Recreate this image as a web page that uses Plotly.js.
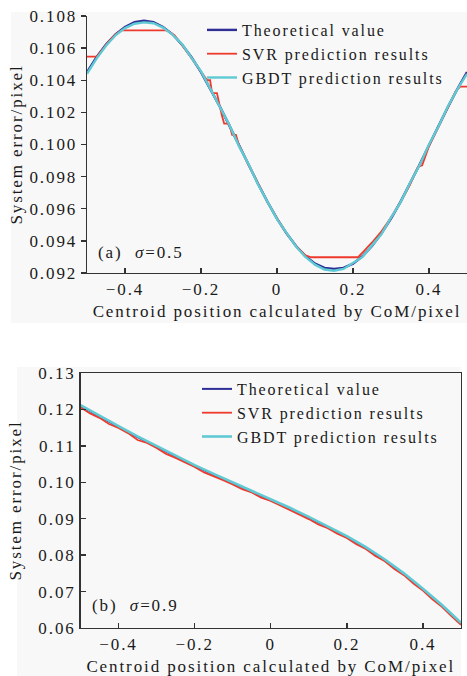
<!DOCTYPE html>
<html><head><meta charset="utf-8">
<script src="https://cdn.plot.ly/plotly-3.0.1.min.js"></script>
<style>
html,body{margin:0;padding:0;background:#fff;}
svg text{letter-spacing:1.9px;}
</style></head>
<body><div id="chart" style="width:467px;height:676px;"></div>
<script>
// ---- panel (a) sigma = 0.5 ----
const xA = [-0.5,-0.475,-0.45,-0.425,-0.4,-0.375,-0.35,-0.325,-0.3,-0.275,-0.25,-0.225,-0.2,-0.175,-0.15,-0.125,-0.1,-0.075,-0.05,-0.025,0,0.025,0.05,0.075,0.1,0.125,0.15,0.175,0.2,0.225,0.25,0.275,0.3,0.325,0.35,0.375,0.4,0.425,0.45,0.475,0.5];
const theoA = [0.10450,0.10543,0.10622,0.10686,0.10732,0.10761,0.10770,0.10761,0.10732,0.10686,0.10622,0.10543,0.10451,0.10347,0.10234,0.10116,0.09995,0.09874,0.09756,0.09643,0.09539,0.09447,0.09368,0.09304,0.09258,0.09232,0.09225,0.09232,0.09258,0.09304,0.09368,0.09447,0.09539,0.09643,0.09756,0.09874,0.09995,0.10116,0.10234,0.10347,0.10451];
const gbdtA = [0.10440,0.10535,0.10615,0.10680,0.10725,0.10752,0.10760,0.10755,0.10728,0.10684,0.10625,0.10540,0.10455,0.10345,0.10230,0.10120,0.09990,0.09878,0.09752,0.09646,0.09535,0.09450,0.09365,0.09300,0.09252,0.09222,0.09214,0.09225,0.09262,0.09300,0.09372,0.09442,0.09545,0.09640,0.09760,0.09870,0.10000,0.10112,0.10238,0.10345,0.10440];
const svrXA = [-0.5,-0.474,-0.46,-0.44,-0.425,-0.41,-0.29,-0.27,-0.25,-0.225,-0.2,-0.184,-0.176,-0.171,-0.158,-0.145,-0.139,-0.126,-0.118,-0.108,-0.1,-0.075,-0.05,-0.025,0,0.025,0.05,0.075,0.09,0.213,0.23,0.25,0.275,0.3,0.325,0.35,0.365,0.371,0.382,0.4,0.425,0.45,0.47,0.482,0.5];
const svrYA = [0.10547,0.10547,0.10590,0.10650,0.10685,0.10710,0.10710,0.10680,0.10620,0.10540,0.10455,0.10400,0.10400,0.10320,0.10320,0.10180,0.10130,0.10130,0.10060,0.10060,0.09995,0.09874,0.09756,0.09643,0.09539,0.09447,0.09368,0.09310,0.09298,0.09298,0.09340,0.09390,0.09460,0.09545,0.09640,0.09750,0.09830,0.09860,0.09870,0.09990,0.10110,0.10230,0.10330,0.10360,0.10360];

// ---- panel (b) sigma = 0.9 ----
const xB = [-0.5,-0.45,-0.4,-0.35,-0.3,-0.25,-0.2,-0.15,-0.1,-0.05,0,0.05,0.1,0.15,0.2,0.25,0.3,0.35,0.4,0.45,0.5];
const theoB = [0.1210,0.1180,0.1152,0.1124,0.1097,0.1071,0.1045,0.1021,0.0998,0.0975,0.0952,0.0928,0.0903,0.0877,0.0850,0.0820,0.0786,0.0748,0.0706,0.0661,0.0612];
const gbdtB = [0.1212,0.1182,0.1154,0.1126,0.1099,0.1073,0.1047,0.1023,0.1000,0.0977,0.0954,0.0930,0.0905,0.0879,0.0852,0.0822,0.0788,0.0750,0.0708,0.0663,0.0614];
const svrXB = [-0.5,-0.475,-0.45,-0.425,-0.4,-0.375,-0.35,-0.325,-0.3,-0.275,-0.25,-0.225,-0.2,-0.175,-0.15,-0.125,-0.1,-0.075,-0.05,-0.025,0,0.025,0.05,0.075,0.1,0.125,0.15,0.175,0.2,0.225,0.25,0.275,0.3,0.325,0.35,0.375,0.4,0.425,0.45,0.475,0.5];
const svrYB = [0.1206,0.1189,0.1177,0.1160,0.1149,0.1135,0.1116,0.1108,0.1094,0.1078,0.1067,0.1055,0.1042,0.1027,0.1017,0.1006,0.0994,0.0981,0.0972,0.0958,0.0949,0.0937,0.0923,0.0912,0.0899,0.0884,0.0874,0.0859,0.0847,0.0830,0.0817,0.0798,0.0783,0.0762,0.0745,0.0722,0.0703,0.0679,0.0658,0.0633,0.0609];

const seriesNames = ['Theoretical value','SVR prediction results','GBDT prediction results'];
const xTicks = [-0.4,-0.2,0,0.2,0.4];

const cTheo = '#2e2e96', cSvr = '#ee3a2c', cGbdt = '#5fcad4';
const FONT = 'Liberation Serif, Times New Roman, serif';

const traces = [
  {x:xA, y:theoA, name:seriesNames[0], mode:'lines', line:{color:cTheo,width:2.4}, xaxis:'x', yaxis:'y', legend:'legend'},
  {x:svrXA, y:svrYA, name:seriesNames[1], mode:'lines', line:{color:cSvr,width:1.8}, xaxis:'x', yaxis:'y', legend:'legend'},
  {x:xA, y:gbdtA, name:seriesNames[2], mode:'lines', line:{color:cGbdt,width:2.4}, xaxis:'x', yaxis:'y', legend:'legend'},
  {x:xB, y:theoB, name:seriesNames[0], mode:'lines', line:{color:cTheo,width:2}, xaxis:'x2', yaxis:'y2', legend:'legend2'},
  {x:svrXB, y:svrYB, name:seriesNames[1], mode:'lines', line:{color:cSvr,width:1.8}, xaxis:'x2', yaxis:'y2', legend:'legend2'},
  {x:xB, y:gbdtB, name:seriesNames[2], mode:'lines', line:{color:cGbdt,width:2.6}, xaxis:'x2', yaxis:'y2', legend:'legend2'}
];

const W = 467, H = 676;
const axCommon = {showgrid:false, zeroline:false, showline:true, linecolor:'#333', linewidth:1.4, tickcolor:'#333', tickwidth:1.4, ticklen:5, tickfont:{family:FONT,size:17,color:'#1a1a1a'}};
const titleFont = {family:FONT,size:17,color:'#1a1a1a'};

const layout = {
  width:W, height:H,
  margin:{l:0,r:0,t:0,b:0},
  paper_bgcolor:'#ffffff',
  plot_bgcolor:'#f8f8f8',
  showlegend:true,
  font:{family:FONT,size:17,color:'#1a1a1a'},
  xaxis:Object.assign({}, axCommon, {domain:[87/W,1], range:[-0.5,0.5], tickvals:xTicks, ticks:'inside', mirror:false, anchor:'y',
    title:{text:'Centroid position calculated by CoM/pixel', font:titleFont, standoff:7}}),
  yaxis:Object.assign({}, axCommon, {domain:[1-273/H,1-16/H], range:[0.092,0.108], dtick:0.002, tickformat:'.3f', ticks:'outside', anchor:'x',
    title:{text:'System error/pixel', font:titleFont, standoff:2}}),
  xaxis2:Object.assign({}, axCommon, {domain:[80.5/W,461/W], range:[-0.5,0.5], tickvals:xTicks, ticks:'inside', mirror:true, anchor:'y2',
    title:{text:'Centroid position calculated by CoM/pixel', font:titleFont, standoff:9}}),
  yaxis2:Object.assign({}, axCommon, {domain:[1-628/H,1-373/H], range:[0.06,0.13], dtick:0.01, tickformat:'.2f', ticks:'inside', mirror:true, anchor:'x2',
    title:{text:'System error/pixel', font:titleFont, standoff:12}}),
  legend:{x:202/W, y:1-13/H, xanchor:'left', yanchor:'top', bgcolor:'rgba(0,0,0,0)', font:{family:FONT,size:16,color:'#1a1a1a'}, tracegroupgap:0},
  legend2:{x:197/W, y:1-372/H, xanchor:'left', yanchor:'top', bgcolor:'rgba(0,0,0,0)', font:{family:FONT,size:16,color:'#1a1a1a'}, tracegroupgap:0},
  shapes:[
    {type:'rect', xref:'paper', yref:'paper', x0:11/W, x1:1, y0:1-323/H, y1:1-12/H, fillcolor:'#f8f8f8', line:{width:0}, layer:'below'},
    {type:'rect', xref:'paper', yref:'paper', x0:17/W, x1:461/W, y0:0, y1:1-367/H, fillcolor:'#f8f8f8', line:{width:0}, layer:'below'}
  ],
  annotations:[
    {xref:'paper', yref:'paper', x:96/W, y:1-253/H, xanchor:'left', yanchor:'middle', showarrow:false, text:'(a)  <i>σ</i>=0.5', font:{family:FONT,size:17,color:'#1a1a1a'}},
    {xref:'paper', yref:'paper', x:90/W, y:1-605/H, xanchor:'left', yanchor:'middle', showarrow:false, text:'(b)  <i>σ</i>=0.9', font:{family:FONT,size:17,color:'#1a1a1a'}}
  ]
};

Plotly.newPlot('chart', traces, layout, {displayModeBar:false, staticPlot:true});
</script></body></html>
